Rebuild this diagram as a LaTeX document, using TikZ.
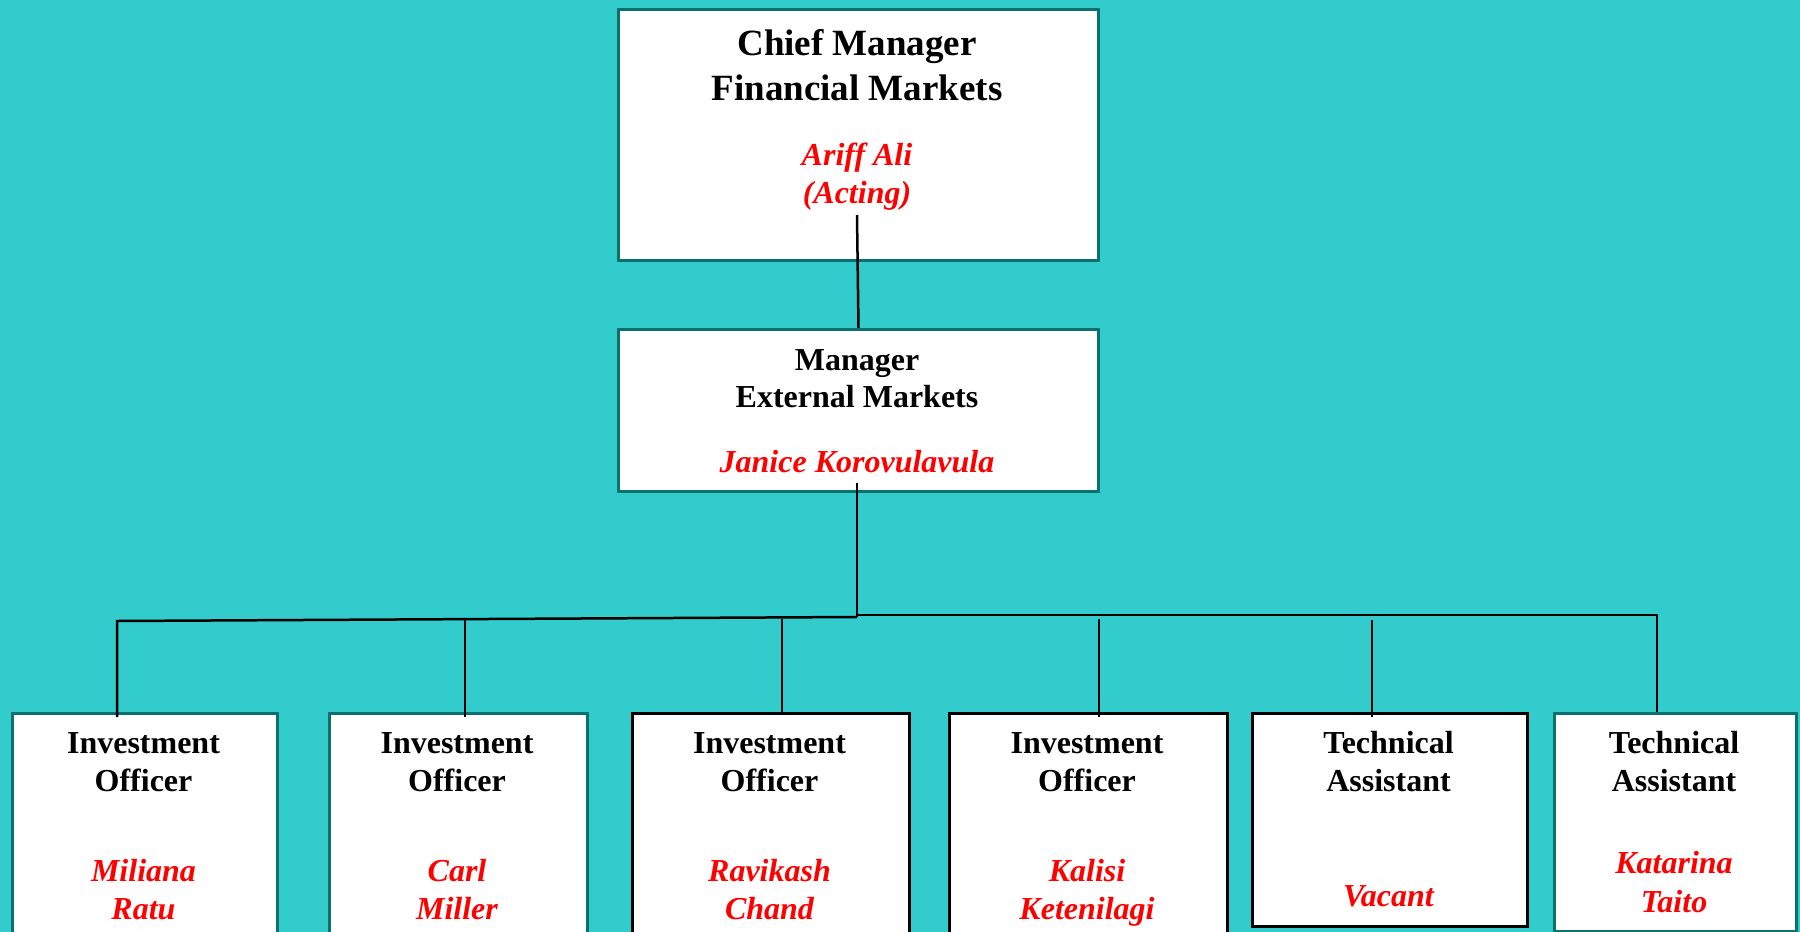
\documentclass[tikz,border=0pt]{standalone}
\usepackage{fontspec}
\setmainfont{Liberation Serif}
\definecolor{bgc}{HTML}{33CCCC}
\definecolor{edge}{HTML}{0A7070}
\definecolor{namered}{HTML}{FF0000}
\tikzset{
  tealbox/.style={draw=edge, line width=3pt, fill=white, inner sep=0, anchor=north west},
  blackbox/.style={draw=black, line width=3pt, fill=white, inner sep=0, anchor=north west},
  bigtitle/.style={font=\bfseries\fontsize{37}{44}\selectfont, anchor=base, inner sep=0},
  roletitle/.style={font=\bfseries\fontsize{32}{38}\selectfont, anchor=base, inner sep=0},
  person/.style={font=\bfseries\itshape\fontsize{32}{38}\selectfont, text=namered, anchor=base, inner sep=0},
  link/.style={draw=black, line width=2.5pt}
}
\begin{document}
\begin{tikzpicture}[x=1pt,y=-1pt]
\useasboundingbox (0,0) rectangle (1800,932);
\fill[bgc] (0,0) rectangle (1800,932);
\clip (0,0) rectangle (1800,932);
% boxes
\node[tealbox, minimum width=480pt, minimum height=251pt] (top) at (617,8) {};
\node[tealbox, minimum width=480pt, minimum height=162pt] (mgr) at (617,328) {};
\node[tealbox, minimum width=265pt, minimum height=240pt] (b1) at (11,712) {};
\node[tealbox, minimum width=258pt, minimum height=240pt] (b2) at (328,712) {};
\node[blackbox, minimum width=277pt, minimum height=240pt] (b3) at (631,712) {};
\node[blackbox, minimum width=278pt, minimum height=240pt] (b4) at (948,712) {};
\node[blackbox, minimum width=275pt, minimum height=213pt] (b5) at (1251,712) {};
\node[tealbox, minimum width=242pt, minimum height=218pt] (b6) at (1553,712) {};
% texts
\node[bigtitle] (t1) at (857,55) {Chief Manager};
\node[bigtitle] (t2) at (857,100) {Financial Markets};
\node[person] (t3) at (857,165) {Ariff Ali};
\node[person] (t4) at (857,203) {(Acting)};
\node[roletitle] (m1) at (857,370) {Manager};
\node[roletitle] (m2) at (857,407) {External Markets};
\node[person] (m3) at (857,472) {Janice Korovulavula};
\node[roletitle] (a1) at (143.5,753) {Investment};
\node[roletitle] (a2) at (143.5,791) {Officer};
\node[person] (a3) at (143.5,881) {Miliana};
\node[person] (a4) at (143.5,919) {Ratu};
\node[roletitle] (c1) at (457,753) {Investment};
\node[roletitle] (c2) at (457,791) {Officer};
\node[person] (c3) at (457,881) {Carl};
\node[person] (c4) at (457,919) {Miller};
\node[roletitle] (r1) at (769.5,753) {Investment};
\node[roletitle] (r2) at (769.5,791) {Officer};
\node[person] (r3) at (769.5,881) {Ravikash};
\node[person] (r4) at (769.5,919) {Chand};
\node[roletitle] (k1) at (1087,753) {Investment};
\node[roletitle] (k2) at (1087,791) {Officer};
\node[person] (k3) at (1087,881) {Kalisi};
\node[person] (k4) at (1087,919) {Ketenilagi};
\node[roletitle] (v1) at (1388.5,753) {Technical};
\node[roletitle] (v2) at (1388.5,791) {Assistant};
\node[person] (v3) at (1388.5,906) {Vacant};
\node[roletitle] (s1) at (1674,753) {Technical};
\node[roletitle] (s2) at (1674,791) {Assistant};
\node[person] (s3) at (1674,873) {Katarina};
\node[person] (s4) at (1674,912) {Taito};
% connector coordinates
\coordinate (topstart) at (857,215);
\coordinate (mgrstart) at (857,483);
\coordinate (hub) at (857,617);
\coordinate (hubr) at (857,615);
\coordinate (hl) at (117,621);
\coordinate (hr) at (1657,615);
\coordinate (d1) at (117,717);
\coordinate (u2) at (465,620);   \coordinate (d2) at (465,717);
\coordinate (u3) at (782,619);   \coordinate (d3) at (782,712);
\coordinate (u4) at (1099,619);  \coordinate (d4) at (1099,717);
\coordinate (u5) at (1372,620);  \coordinate (d5) at (1372,717);
\coordinate (d6) at (1657,712);
% connectors
\draw[link] (topstart) -- (mgr.north);
\draw[link] (mgrstart) -- (hub);
\draw[link] (d1) -- (hl) -- (hub);
\draw[link] (hubr) -- (hr) -- (d6);
\draw[link] (u2) -- (d2);
\draw[link] (u3) -- (d3);
\draw[link] (u4) -- (d4);
\draw[link] (u5) -- (d5);
\end{tikzpicture}
\end{document}
